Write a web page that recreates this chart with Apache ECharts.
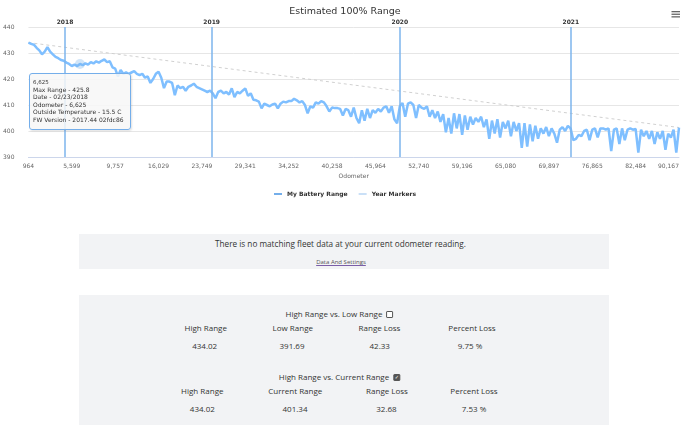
<!DOCTYPE html>
<html>
<head>
<meta charset="utf-8">
<script src="https://cdn.jsdelivr.net/npm/echarts@6/dist/echarts.min.js"></script>
<style>
  html, body { margin: 0; padding: 0; background: #fff; }
  body { position: relative; width: 690px; height: 425px; overflow: hidden; font-family: "Open Sans", sans-serif; color: #333; }
  #chart { position: absolute; left: 0; top: 0; width: 690px; height: 205px; }
  .panel { position: absolute; left: 79px; width: 530px; background: #f2f3f5; }
  .t { position: absolute; transform: translate(-50%, -50%); white-space: nowrap; font-size: 8px; line-height: 10px; }
  .link { font-size: 6px; color: #555; text-decoration: underline; text-decoration-color: #7b5ea7; }
  .box { display: inline-block; position: relative; width: 5px; height: 5px; border: 0.8px solid #555; border-radius: 1px; margin-left: 4px; vertical-align: -0.5px; background: #fff; }
  .box.on { background: #555; }
  .box.on::after { content: "\2713"; position: absolute; left: 0.6px; top: -2.4px; font-size: 5px; color: #fff; font-family: "DejaVu Sans", sans-serif; }
</style>
</head>
<body>
<div id="chart"></div>

<div class="panel" style="top:234px;height:35px;"></div>
<div class="t" style="left:340.5px;top:243.5px;font-size:8.2px;">There is no matching fleet data at your current odometer reading.</div>
<div class="t link" style="left:341px;top:262px;">Data And Settings</div>

<div class="panel" style="top:295px;height:130px;"></div>
<div class="t" style="left:339.5px;top:314.3px;">High Range vs. Low Range<span class="box"></span></div>
<div class="t" style="left:205.7px;top:327.7px;">High Range</div>
<div class="t" style="left:292.8px;top:327.7px;">Low Range</div>
<div class="t" style="left:379.5px;top:327.7px;">Range Loss</div>
<div class="t" style="left:472px;top:327.7px;">Percent Loss</div>
<div class="t" style="left:204.7px;top:346px;">434.02</div>
<div class="t" style="left:292px;top:346px;">391.69</div>
<div class="t" style="left:379.7px;top:346px;">42.33</div>
<div class="t" style="left:470px;top:346px;">9.75 %</div>

<div class="t" style="left:339.5px;top:377.3px;">High Range vs. Current Range<span class="box on"></span></div>
<div class="t" style="left:202.3px;top:390.7px;">High Range</div>
<div class="t" style="left:295.3px;top:390.7px;">Current Range</div>
<div class="t" style="left:387px;top:390.7px;">Range Loss</div>
<div class="t" style="left:474px;top:390.7px;">Percent Loss</div>
<div class="t" style="left:202.3px;top:409px;">434.02</div>
<div class="t" style="left:295px;top:409px;">401.34</div>
<div class="t" style="left:386.5px;top:409px;">32.68</div>
<div class="t" style="left:474px;top:409px;">7.53 %</div>

<script>
// odometer labels shown under the axis, one every tickStep readings
const tickLabels = ['964', '5,599', '9,757', '16,029', '23,749', '29,341', '34,252', '40,258',
  '45,964', '52,740', '59,196', '65,080', '69,897', '76,865', '82,484', '90,167'];
const tickStep = 16;

// estimated 100% range per reading (miles)
const range = [
  434.0, 433.5, 433.2, 432.0, 431.0, 429.5, 430.5, 432.3, 430.5, 429.5, 428.5, 428.0, 427.3, 427.0, 426.3, 425.8,
  425.0, 425.5, 425.0, 425.8, 425.3, 426.0, 425.5, 426.5, 426.0, 426.8, 426.3, 427.0, 427.5, 426.5, 426.8, 424.5,
  424.0, 421.0, 423.5, 422.0, 422.5, 422.0, 422.5, 423.0, 422.0, 421.5, 422.0, 420.5, 421.0, 418.5, 420.0, 422.0,
  422.8, 420.5, 416.5, 419.0, 419.0, 418.5, 413.8, 417.5, 416.5, 417.0, 415.5, 417.0, 417.5, 418.2, 417.0, 416.5,
  416.0, 415.5, 415.0, 415.5, 414.5, 412.6, 415.0, 415.5, 414.5, 415.0, 414.0, 416.4, 413.0, 415.0, 414.5, 415.5,
  416.4, 413.5, 414.5, 412.0, 411.8, 411.3, 408.7, 410.5, 410.0, 409.5, 410.2, 410.5, 408.7, 410.5, 411.3, 411.0,
  411.5, 411.5, 412.4, 411.8, 411.0, 411.5, 410.0, 406.8, 409.5, 409.0, 411.0, 410.5, 411.5, 411.0, 409.5, 407.5,
  409.0, 408.8, 408.8, 408.5, 406.0, 408.5, 408.0, 405.5, 409.0, 405.0, 403.0, 408.0, 404.0, 408.5, 405.0, 408.0,
  407.0, 408.5, 407.5, 409.0, 409.5, 407.0, 409.5, 404.5, 403.0, 409.5, 410.8, 405.5, 410.5, 411.0, 410.0, 405.0,
  410.0, 409.0, 408.5, 409.5, 405.5, 408.0, 405.0, 407.5, 403.5, 406.5, 399.5, 405.0, 399.0, 406.8, 401.0, 406.5,
  398.5, 406.0, 400.5, 405.5, 402.5, 405.0, 403.5, 405.5, 401.5, 404.5, 397.0, 404.0, 399.0, 404.5, 397.5, 403.5,
  401.0, 404.0, 398.0, 403.5, 400.0, 403.0, 393.5, 403.0, 394.0, 402.5, 396.0, 402.0, 397.0, 401.0, 399.0, 401.5,
  398.0, 401.0, 399.0, 395.5, 400.5, 401.5, 400.0, 402.0, 401.0, 396.5, 397.0, 398.5, 398.0, 400.0, 400.5, 396.5,
  400.5, 401.0, 397.5, 401.0, 401.0, 400.5, 401.0, 392.3, 400.5, 401.0, 395.0, 401.0, 396.5, 400.5, 401.0, 400.5,
  400.8, 391.7, 400.5, 398.0, 400.0, 397.0, 400.0, 395.0, 399.5, 397.0, 400.0, 392.8, 399.0, 397.5, 400.5, 391.7,
  401.34
];

// new year markers, as positions along the readings
const yearLabels = ['2018', '2019', '2020', '2021'];
const yearPositions = [13.5, 67.6, 137.0, 200.1];

const highRange = 434.02;
const currentRange = 401.34;

// the hovered reading
const tipIndex = 19;
const tipOdometer = '6,625';
const tipDate = '02/23/2018';
const tipTemp = '15.5 C';
const tipFirmware = '2017.44 02fdc86';

const font = 'DejaVu Sans';
const blue = '#74aeea';

const chart = echarts.init(document.getElementById('chart'));
chart.setOption({
  animation: false,
  title: {
    text: 'Estimated 100% Range',
    left: 'center',
    top: 2,
    textStyle: { fontFamily: font, fontSize: 9.5, fontWeight: 'normal', color: '#333' }
  },
  graphic: [{
    type: 'group',
    right: 10,
    top: 11,
    children: [0, 1, 2].map(k => ({
      type: 'rect',
      shape: { x: 0, y: k * 2.6, width: 8.5, height: 1.3 },
      style: { fill: '#666' }
    }))
  }],
  legend: {
    data: [
      { name: 'My Battery Range', icon: 'rect' },
      { name: 'Year Markers', icon: 'path://M0,0h8v0.01h-8zM0,0.6h8v0.8h-8zM0,1.99h8v0.01h-8z' }
    ],
    top: 186,
    left: 'center',
    itemWidth: 8,
    itemHeight: 2,
    itemGap: 11,
    textStyle: { fontFamily: font, fontSize: 6, fontWeight: 'bold', color: '#333' }
  },
  grid: { left: 27, right: 11, top: 27, bottom: 48 },
  tooltip: {
    trigger: 'axis',
    axisPointer: { type: 'none' },
    alwaysShowContent: true,
    transitionDuration: 0,
    position: [29, 73],
    backgroundColor: 'rgba(247,247,247,0.85)',
    borderColor: blue,
    borderWidth: 1,
    padding: [5, 6, 6, 3],
    extraCssText: 'box-shadow:1px 1px 2px rgba(0,0,0,0.12);border-radius:3px;',
    textStyle: { fontFamily: font, fontSize: 6, color: '#333' },
    formatter(params) {
      const p = params.find(q => q.seriesName === 'My Battery Range');
      const v = p ? p.value[1] : range[tipIndex];
      return '<div style="font-family:DejaVu Sans;color:#333;">' +
        '<div style="font-size:5.5px;line-height:7px;">' + tipOdometer + '</div>' +
        '<div style="font-size:6px;line-height:7.4px;">' +
        'Max Range - ' + v + '<br>' +
        'Date - ' + tipDate + '<br>' +
        'Odometer - ' + tipOdometer + '<br>' +
        'Outside Temperature - ' + tipTemp + '<br>' +
        'FW Version - ' + tipFirmware + '</div></div>';
    }
  },
  xAxis: {
    type: 'value',
    min: 0,
    max: range.length - 1,
    interval: tickStep,
    name: 'Odometer',
    nameLocation: 'middle',
    nameGap: 16,
    nameTextStyle: { fontFamily: font, fontSize: 6, color: '#666' },
    axisLine: { show: true, lineStyle: { color: '#ccd6eb', width: 1 } },
    axisTick: { show: false },
    splitLine: { show: false },
    axisLabel: {
      margin: 6,
      fontFamily: font,
      fontSize: 6,
      color: '#666',
      alignMaxLabel: 'right',
      formatter: v => tickLabels[Math.round(v / tickStep)] || ''
    }
  },
  yAxis: {
    type: 'value',
    min: 390,
    max: 440,
    interval: 10,
    axisLine: { show: false },
    axisTick: { show: false },
    splitLine: { lineStyle: { color: '#e6e6e6', width: 1 } },
    axisLabel: { margin: 14, fontFamily: font, fontSize: 6, color: '#666' }
  },
  series: [
    {
      name: 'My Battery Range',
      type: 'line',
      data: range.map((v, i) => [i, v]),
      showSymbol: false,
      symbol: 'circle',
      symbolSize: 10,
      itemStyle: { color: blue },
      lineStyle: { color: blue, width: 2.5 },
      emphasis: {
        scale: false,
        itemStyle: { color: 'rgba(124,181,236,0.35)', borderWidth: 0 },
        lineStyle: { width: 2.5 }
      },
      z: 3
    },
    {
      name: 'Year Markers',
      type: 'line',
      data: [],
      itemStyle: { color: '#95c2ef' },
      lineStyle: { color: '#95c2ef', width: 1 },
      markLine: {
        silent: true,
        symbol: 'none',
        animation: false,
        lineStyle: { color: '#7cb5ec', width: 1.5, type: 'solid' },
        label: {
          show: true,
          position: 'end',
          distance: 2,
          fontFamily: font,
          fontSize: 6,
          fontWeight: 'bold',
          color: '#333',
          formatter: p => p.name
        },
        data: yearPositions.map((x, k) => ({ name: yearLabels[k], xAxis: x }))
      },
      z: 2
    },
    {
      name: 'Trend',
      type: 'line',
      silent: true,
      showSymbol: false,
      symbol: 'none',
      lineStyle: { color: '#d0d0d0', width: 1, type: [3, 3] },
      data: [
        [0, highRange],
        {
          value: [range.length - 1, currentRange],
          label: {
            show: true,
            position: 'top',
            align: 'right',
            distance: 2,
            fontFamily: font,
            fontSize: 6,
            color: '#bbb',
            formatter: String(currentRange)
          }
        }
      ],
      z: 1
    }
  ]
});

chart.dispatchAction({ type: 'showTip', seriesIndex: 0, dataIndex: tipIndex });
</script>
</body>
</html>
